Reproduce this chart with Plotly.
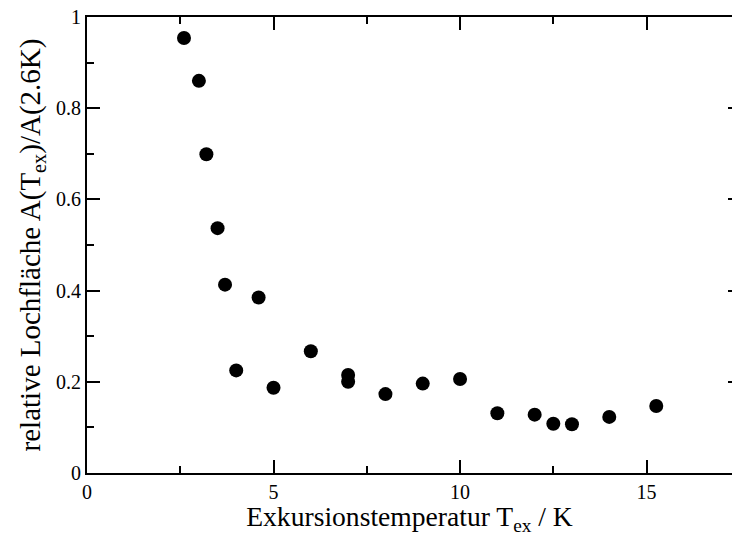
import plotly.graph_objects as go

temps = [2.6, 3.0, 3.2, 3.5, 3.7, 4.6, 4.0, 5.0, 6.0, 7.0, 7.0, 8.0, 9.0, 10.0,
         11.0, 12.0, 12.5, 13.0, 14.0, 15.26]
area = [0.954, 0.860, 0.699, 0.537, 0.413, 0.385, 0.225, 0.187, 0.267, 0.215,
        0.200, 0.173, 0.196, 0.206, 0.131, 0.128, 0.108, 0.107, 0.123, 0.147]

x_range = [0, 17.29]
y_range = [0, 1]

fig = go.Figure()
fig.add_trace(go.Scatter(
    x=temps, y=area, mode="markers",
    marker=dict(size=14, color="black"),
))
# invisible copy on a right-hand axis, only so the cropped right-side tick stubs show
fig.add_trace(go.Scatter(
    x=temps, y=area, mode="markers", yaxis="y2",
    marker=dict(size=1, opacity=0), hoverinfo="skip",
))

font = "'Liberation Serif', 'Times New Roman', Times, serif"
tick_font = dict(family=font, size=20, color="black")
xtitle_font = dict(family=font, size=27.6, color="black")
ytitle_font = dict(family=font, size=29, color="black")

fig.update_xaxes(
    range=x_range, dtick=5, tick0=0,
    showline=True, linecolor="black", linewidth=2, mirror="ticks",
    ticks="inside", ticklen=13, tickwidth=1.5, tickcolor="black",
    minor=dict(ticks="inside", ticklen=7, dtick=2.5, tickwidth=1.5, tickcolor="black"),
    showgrid=False, zeroline=False, automargin=False,
    tickfont=tick_font, ticklabeloverflow="allow",
    title=dict(text="Exkursionstemperatur T<sub>ex</sub> / K", font=xtitle_font, standoff=5),
)
fig.update_yaxes(
    range=y_range, dtick=0.2, tick0=0,
    showline=True, linecolor="black", linewidth=2, mirror=False,
    ticks="inside", ticklen=13, tickwidth=1.5, tickcolor="black",
    minor=dict(ticks="inside", ticklen=7, dtick=0.1, tickwidth=1.5, tickcolor="black"),
    showgrid=False, zeroline=False, automargin=False,
    tickfont=tick_font, ticklabeloverflow="allow",
    title=dict(text="relative Lochfläche A(T<sub>ex</sub>)/A(2.6K)", font=ytitle_font, standoff=7),
)

fig.update_layout(
    width=732, height=536,
    margin=dict(l=87, r=0, t=17, b=63),
    plot_bgcolor="white", paper_bgcolor="white",
    font=dict(family=font, color="black"),
    showlegend=False, hovermode=False,
    yaxis2=dict(
        overlaying="y", side="right", range=y_range, dtick=0.2, tick0=0,
        ticks="inside", ticklen=4, tickwidth=1.5, tickcolor="black",
        showticklabels=False, showline=False, showgrid=False, zeroline=False,
        automargin=False,
    ),
)

fig.write_html("out.html", config={"displayModeBar": False},
               post_script="document.body.style.margin='0';")
